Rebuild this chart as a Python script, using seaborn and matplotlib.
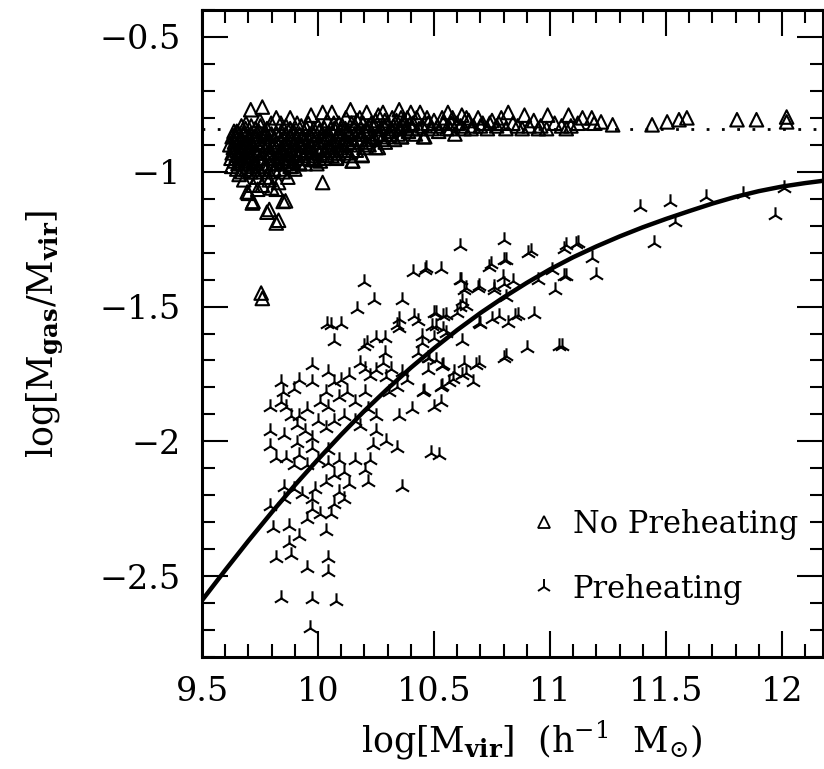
import matplotlib
matplotlib.use("Agg")
import matplotlib.pyplot as plt
import seaborn as sns
import pandas as pd
from matplotlib.ticker import MultipleLocator, FuncFormatter
from matplotlib.lines import Line2D

# ---------------- data ----------------
baryon_fraction = -0.84

fit_x = [9.5, 9.6, 9.7, 9.8, 9.9, 10.0, 10.1, 10.2, 10.3, 10.4, 10.5, 10.6,
         10.7, 10.8, 10.9, 11.0, 11.1, 11.2, 11.3, 11.4, 11.5, 11.6, 11.7,
         11.8, 11.9, 12.0, 12.1, 12.2]
fit_y = [-2.590, -2.478, -2.369, -2.264, -2.163, -2.067, -1.975, -1.887,
         -1.805, -1.727, -1.655, -1.587, -1.524, -1.466, -1.412, -1.362,
         -1.317, -1.277, -1.240, -1.206, -1.175, -1.146, -1.118, -1.093,
         -1.072, -1.055, -1.042, -1.031]

nopreheat_points = [
    (9.62, -0.90), (9.63, -0.93), (9.63, -0.87), (9.64, -0.96), (9.64, -0.89),
    (9.65, -0.99), (9.65, -0.92), (9.65, -0.85), (9.66, -1.01), (9.66, -0.95),
    (9.66, -0.88), (9.67, -0.83), (9.67, -0.97), (9.67, -0.91), (9.68, -1.03),
    (9.68, -0.86), (9.68, -0.94), (9.69, -0.99), (9.69, -0.89), (9.69, -0.82),
    (9.70, -0.96), (9.70, -0.92), (9.70, -1.08), (9.71, -0.77), (9.71, -0.86),
    (9.71, -1.00), (9.72, -0.94), (9.72, -0.90), (9.72, -1.05), (9.72, -1.11),
    (9.73, -0.84), (9.73, -0.97), (9.74, -0.88), (9.74, -1.02), (9.74, -1.065),
    (9.75, -0.92), (9.75, -0.81), (9.755, -1.45), (9.76, -1.47), (9.76, -0.76),
    (9.76, -0.95), (9.76, -1.05), (9.77, -0.87), (9.77, -0.99), (9.78, -0.90),
    (9.78, -1.15), (9.78, -0.84), (9.79, -0.97), (9.79, -1.03), (9.80, -0.93),
    (9.80, -1.06), (9.80, -0.86), (9.81, -0.99), (9.82, -0.80), (9.82, -0.91),
    (9.82, -1.065), (9.82, -1.19), (9.83, -0.95), (9.83, -1.04), (9.84, -0.88),
    (9.84, -0.82), (9.85, -1.00), (9.85, -0.93), (9.85, -1.11), (9.86, -0.86),
    (9.86, -0.97), (9.87, -0.90), (9.87, -1.02), (9.88, -0.80), (9.88, -0.84),
    (9.88, -0.95), (9.89, -0.88), (9.90, -0.99), (9.90, -0.92), (9.91, -0.82),
    (9.92, -0.97), (9.92, -0.86), (9.93, -0.90), (9.94, -0.94), (9.95, -0.84),
    (9.96, -0.88), (9.96, -0.95), (9.97, -0.79), (9.97, -0.91), (9.98, -0.86),
    (9.99, -0.94), (10.00, -0.83), (10.00, -0.89), (10.01, -0.96), (10.02, -0.78),
    (10.02, -1.04), (10.02, -0.86), (10.03, -0.92), (10.04, -0.81), (10.05, -0.88),
    (10.06, -0.78), (10.06, -0.94), (10.07, -0.84), (10.08, -0.95), (10.08, -0.90),
    (10.09, -0.82), (10.10, -0.87), (10.11, -0.92), (10.12, -0.80), (10.13, -0.85),
    (10.14, -0.77), (10.14, -0.90), (10.15, -0.96), (10.16, -0.83), (10.17, -0.88),
    (10.18, -0.80), (10.19, -0.94), (10.20, -0.85), (10.21, -0.78), (10.22, -0.90),
    (10.23, -0.82), (10.24, -0.87), (10.25, -0.91), (10.26, -0.79), (10.27, -0.84),
    (10.28, -0.78), (10.29, -0.89), (10.30, -0.82), (10.31, -0.86), (10.32, -0.80),
    (10.33, -0.88), (10.35, -0.77), (10.35, -0.84), (10.36, -0.87), (10.37, -0.81),
    (10.39, -0.85), (10.40, -0.78), (10.41, -0.82), (10.42, -0.86), (10.44, -0.78),
    (10.45, -0.83), (10.46, -0.87), (10.47, -0.80), (10.49, -0.84), (10.50, -0.81),
    (10.52, -0.85), (10.54, -0.82), (10.56, -0.78), (10.57, -0.84), (10.58, -0.80),
    (10.59, -0.86), (10.60, -0.82), (10.62, -0.79), (10.63, -0.84), (10.65, -0.81),
    (10.67, -0.83), (10.69, -0.80), (10.71, -0.82), (10.73, -0.84), (10.75, -0.81),
    (10.77, -0.83), (10.79, -0.80), (10.82, -0.78), (10.84, -0.82), (10.86, -0.83),
    (10.89, -0.79), (10.91, -0.83), (10.93, -0.81), (10.96, -0.83), (10.99, -0.79),
    (11.02, -0.82), (11.05, -0.83), (11.08, -0.79), (11.09, -0.83), (11.14, -0.80),
    (11.18, -0.80), (11.19, -0.82), (11.22, -0.815), (11.27, -0.826), (11.44, -0.826),
    (11.505, -0.815), (11.556, -0.807), (11.59, -0.80), (11.806, -0.807), (11.89, -0.807),
    (12.02, -0.797), (12.02, -0.815),
    (10.08, -0.947), (10.147, -0.96), (10.19, -0.937), (10.26, -0.91), (10.36, -0.87),
    (10.455, -0.87), (9.88, -0.98), (9.92, -0.966), (9.98, -0.955), (9.695, -1.075),
    (9.717, -1.116), (9.79, -1.14), (9.86, -1.108), (9.83, -1.18),
    (9.625, -0.95), (9.635, -0.91), (9.645, -0.87), (9.655, -0.97), (9.665, -0.93),
    (9.675, -0.89), (9.685, -0.97), (9.695, -0.93), (9.705, -0.88), (9.715, -0.98),
    (9.725, -0.87), (9.735, -0.93), (9.745, -0.99), (9.745, -0.85), (9.755, -0.89),
    (9.765, -0.93), (9.775, -1.02), (9.785, -0.87), (9.795, -0.93), (9.805, -0.97),
    (9.815, -0.88), (9.825, -0.94), (9.835, -0.99), (9.845, -0.91), (9.855, -0.96),
    (9.865, -0.89), (9.875, -0.93), (9.885, -0.98), (9.895, -0.85), (9.905, -0.95),
    (9.915, -0.89), (9.925, -0.93), (9.935, -0.87), (9.945, -0.97), (9.955, -0.91),
    (9.965, -0.86), (9.975, -0.93), (9.985, -0.89), (9.995, -0.97), (10.005, -0.85),
    (10.015, -0.91), (10.025, -0.95), (10.035, -0.87), (10.045, -0.91), (10.055, -0.84),
    (10.065, -0.89), (10.075, -0.93), (10.085, -0.86), (10.095, -0.91), (10.105, -0.83),
    (10.115, -0.88), (10.125, -0.93), (10.135, -0.86), (10.145, -0.82), (10.155, -0.89),
    (10.165, -0.92), (10.175, -0.85), (10.185, -0.88), (10.195, -0.82), (10.205, -0.89),
    (10.215, -0.85), (10.235, -0.88), (10.245, -0.83), (10.255, -0.86), (10.275, -0.88),
    (10.285, -0.83), (10.305, -0.85), (10.325, -0.83), (10.345, -0.86), (10.365, -0.83),
    (10.385, -0.80), (10.405, -0.84), (10.425, -0.80), (10.435, -0.84), (10.475, -0.82),
    (10.515, -0.83), (10.535, -0.80), (10.555, -0.84), (10.575, -0.82), (10.615, -0.83),
    (10.64, -0.80), (10.66, -0.84), (10.70, -0.83), (10.74, -0.82), (10.78, -0.82),
    (10.81, -0.84), (10.88, -0.84), (10.95, -0.84), (10.985, -0.84), (11.07, -0.84),
    (11.12, -0.82),
    (9.628, -0.98), (9.638, -0.85), (9.648, -0.94), (9.652, -0.90), (9.662, -0.86),
    (9.672, -1.00), (9.678, -0.92), (9.688, -0.84), (9.692, -0.96), (9.702, -0.90),
    (9.708, -0.94), (9.712, -0.83), (9.722, -0.97), (9.728, -0.92), (9.732, -1.00),
    (9.738, -0.86), (9.748, -0.95), (9.752, -0.83), (9.762, -0.90), (9.768, -0.98),
    (9.772, -0.85), (9.782, -0.93), (9.788, -1.00), (9.792, -0.89), (9.798, -0.82),
    (9.808, -0.95), (9.812, -0.90), (9.822, -0.86), (9.828, -0.97), (9.838, -0.92),
    (9.842, -0.85), (9.848, -0.96), (9.858, -0.90), (9.862, -0.83), (9.872, -0.95),
    (9.878, -0.87), (9.882, -0.92), (9.892, -0.96), (9.898, -0.90), (9.908, -0.87),
    (9.912, -0.94), (9.922, -0.90), (9.928, -0.83), (9.938, -0.95), (9.942, -0.88),
    (9.952, -0.92), (9.958, -0.82), (9.968, -0.90), (9.978, -0.95), (9.982, -0.84),
    (9.992, -0.91), (10.008, -0.93), (10.018, -0.88), (10.028, -0.84), (10.038, -0.94),
    (10.048, -0.86), (10.058, -0.92), (10.068, -0.82), (10.078, -0.88), (10.088, -0.93),
    (10.098, -0.85), (10.108, -0.90), (10.118, -0.84), (10.128, -0.89), (10.138, -0.94),
    (10.158, -0.86), (10.168, -0.81), (10.188, -0.86), (10.198, -0.91), (10.218, -0.83),
    (10.228, -0.87), (10.248, -0.81), (10.268, -0.86), (10.288, -0.81), (10.298, -0.87),
    (10.318, -0.84), (10.338, -0.81), (10.358, -0.80), (10.378, -0.84), (10.398, -0.82),
]

preheat_points = [
    (11.387, -1.129), (11.518, -1.111), (11.672, -1.093), (11.83, -1.084), (12.01, -1.062),
    (11.97, -1.162), (11.538, -1.187), (11.45, -1.263), (11.06, -1.288), (11.11, -1.268),
    (11.18, -1.319), (11.20, -1.382), (11.06, -1.386), (11.02, -1.437), (10.906, -1.301),
    (10.93, -1.527), (10.90, -1.654), (11.04, -1.645), (10.80, -1.252), (10.80, -1.328),
    (10.797, -1.391), (10.80, -1.415), (10.81, -1.464), (10.736, -1.355), (10.611, -1.274),
    (10.611, -1.40), (10.63, -1.437), (10.611, -1.50), (10.69, -1.433), (10.76, -1.428),
    (10.75, -1.545), (10.70, -1.563), (10.85, -1.536), (10.80, -1.69), (10.62, -1.627),
    (10.63, -1.708), (10.68, -1.717), (10.62, -1.753), (10.67, -1.78), (10.53, -1.361),
    (10.46, -1.364), (10.41, -1.373), (10.20, -1.41), (10.24, -1.477), (10.36, -1.477),
    (10.17, -1.509), (10.50, -1.523), (10.54, -1.536), (10.43, -1.554), (10.34, -1.567),
    (10.49, -1.571), (10.54, -1.585), (10.04, -1.563), (10.10, -1.563), (10.07, -1.627),
    (10.25, -1.617), (10.29, -1.617), (10.21, -1.636), (10.50, -1.617), (10.45, -1.636),
    (10.43, -1.672), (10.29, -1.672), (10.28, -1.708), (10.316, -1.73), (10.476, -1.69),
    (10.54, -1.717), (10.476, -1.735), (10.18, -1.708), (10.203, -1.73), (10.226, -1.759),
    (9.976, -1.717), (10.045, -1.744), (9.92, -1.771), (9.976, -1.78), (9.84, -1.78),
    (9.897, -1.807), (9.85, -1.816), (9.795, -1.871), (9.863, -1.871), (9.84, -1.853),
    (9.885, -1.907), (9.92, -1.907), (9.908, -1.939), (9.795, -1.961), (9.852, -1.976),
    (9.908, -2.006), (9.943, -1.961), (9.976, -1.988), (9.795, -2.019), (9.818, -2.061),
    (9.863, -2.061), (9.92, -2.052), (9.897, -2.088), (9.954, -2.088), (9.976, -2.024),
    (9.999, -2.07), (10.044, -2.033), (10.044, -2.079), (10.09, -2.07), (10.067, -2.124),
    (10.033, -2.151), (9.988, -2.178), (10.112, -2.115), (10.135, -2.16), (10.158, -2.07),
    (10.203, -2.106), (10.226, -2.07), (10.237, -2.015), (10.294, -1.997), (10.339, -2.024),
    (10.214, -2.151), (10.09, -2.187), (10.112, -2.214), (10.067, -2.232), (10.056, -2.269),
    (10.01, -2.269), (9.976, -2.214), (9.931, -2.196), (9.897, -2.178), (9.852, -2.169),
    (9.795, -2.241), (9.852, -2.214), (9.807, -2.323), (9.874, -2.377), (9.92, -2.35),
    (9.874, -2.314), (9.954, -2.287), (9.976, -2.25), (10.033, -2.332), (10.044, -2.431),
    (10.044, -2.486), (9.954, -2.471), (9.885, -2.422), (9.818, -2.431), (9.84, -2.58),
    (9.976, -2.585), (10.078, -2.594), (9.965, -2.693), (10.362, -2.169), (10.486, -2.043),
    (10.52, -2.052), (10.044, -1.871), (10.067, -1.925), (10.033, -1.952), (10.09, -1.835),
    (10.124, -1.816), (10.112, -1.907), (10.158, -1.853), (10.203, -1.816), (10.158, -1.925),
    (10.214, -1.88), (10.18, -1.943), (10.248, -1.907), (10.248, -1.961), (10.305, -1.816),
    (10.339, -1.798), (10.384, -1.771), (10.407, -1.88), (10.35, -1.907), (10.452, -1.816),
    (10.532, -1.798), (10.532, -1.853), (10.498, -1.871), (10.566, -1.78), (10.294, -1.762),
    (10.362, -1.744), (10.588, -1.744), (9.999, -1.925), (10.033, -1.816), (10.067, -1.78),
    (10.248, -1.735), (10.101, -1.771), (10.135, -1.753), (10.01, -1.853), (9.954, -1.88),
    (10.464, -1.356), (10.055, -1.567), (10.198, -1.647), (10.349, -1.548), (10.349, -1.579),
    (10.414, -1.536), (10.507, -1.523), (10.55, -1.53), (10.60, -1.523), (10.62, -1.48),
    (10.637, -1.499), (10.615, -1.40), (10.64, -1.43), (10.694, -1.425), (10.744, -1.344),
    (10.809, -1.326), (10.84, -1.406), (10.76, -1.437), (10.78, -1.536), (10.86, -1.53),
    (10.82, -1.56), (10.694, -1.56), (10.92, -1.295), (10.95, -1.40), (11.01, -1.363),
    (11.07, -1.27), (11.12, -1.263), (11.07, -1.388), (11.05, -1.647), (10.81, -1.684),
    (10.637, -1.745), (10.694, -1.71), (10.58, -1.77), (10.535, -1.795), (10.457, -1.814),
    (10.535, -1.72), (10.507, -1.70), (10.48, -1.69), (10.45, -1.61), (10.507, -1.573),
    (10.55, -1.597),
]

legend_labels = ["No Preheating", "Preheating"]
x_label = r"log[M$_{\mathbf{vir}}$]  (h$^{-1}$  M$_{\odot}$)"
y_label = r"log[M$_{\mathbf{gas}}$/M$_{\mathbf{vir}}$]"

# ---------------- frames ----------------
df_no = pd.DataFrame(nopreheat_points, columns=["logM", "frac"])
df_pre = pd.DataFrame(preheat_points, columns=["logM", "frac"])
df_fit = pd.DataFrame({"logM": fit_x, "frac": fit_y})

# ---------------- style ----------------
sns.set_style("ticks")
plt.rcParams["font.family"] = ["DejaVu Serif", "DejaVu Sans"]
plt.rcParams["mathtext.fontset"] = "dejavuserif"
plt.rcParams["axes.unicode_minus"] = True
for key in ["text.color", "axes.labelcolor", "xtick.color", "ytick.color",
            "axes.edgecolor"]:
    plt.rcParams[key] = "black"

W, H = 824, 769
fig = plt.figure(figsize=(W / 100, H / 100), dpi=100)
left, right, top, bottom = 202, 823, 10, 657
ax = fig.add_axes([left / W, (H - bottom) / H, (right - left) / W, (bottom - top) / H])

sns.scatterplot(data=df_no, x="logM", y="frac", ax=ax, marker="^", s=95,
                facecolor="none", edgecolor="black", linewidth=1.5, zorder=3,
                legend=False)
sns.scatterplot(data=df_pre, x="logM", y="frac", ax=ax, marker="2", s=140,
                color="black", linewidth=1.5, zorder=3, legend=False)
sns.lineplot(data=df_fit, x="logM", y="frac", ax=ax, color="black", lw=3.2,
             zorder=4, sort=True, estimator=None)
ax.axhline(baryon_fraction, color="black", lw=2, ls=(0, (1, 4.5)),
           dash_capstyle="butt", zorder=2)

ax.set_xlim(9.5, 9.5 + (right - left) / 232.0)
ax.set_ylim(-2.8, -0.4)

ax.xaxis.set_major_locator(MultipleLocator(0.5))
ax.xaxis.set_minor_locator(MultipleLocator(0.1))
ax.yaxis.set_major_locator(MultipleLocator(0.5))
ax.yaxis.set_minor_locator(MultipleLocator(0.1))
fmt = FuncFormatter(lambda v, p: ("%g" % round(v, 3)).replace("-", "\u2212"))
ax.xaxis.set_major_formatter(fmt)
ax.yaxis.set_major_formatter(fmt)

ax.tick_params(which="both", direction="in", top=True, right=True,
               width=1.5, color="black", labelcolor="black", labelsize=24)
ax.tick_params(which="major", length=19)
ax.tick_params(which="minor", length=9.5)
ax.tick_params(axis="x", which="major", pad=14)
ax.tick_params(axis="y", which="major", pad=15)
for sp in ax.spines.values():
    sp.set_linewidth(2.2)
    sp.set_color("black")

ax.set_xlabel(x_label, fontsize=25, labelpad=8)
ax.set_ylabel(y_label, fontsize=25, labelpad=24)
ax.xaxis.set_label_coords((532 - left) / (right - left), -0.095)

handles = [
    Line2D([], [], ls="none", marker="^", markersize=8.5, markerfacecolor="none",
           markeredgecolor="black", markeredgewidth=1.3),
    Line2D([], [], ls="none", marker="2", markersize=11, color="black",
           markeredgewidth=1.4),
]
leg = ax.legend(handles, legend_labels, loc="lower right", frameon=False,
                fontsize=22, labelspacing=1.1, handletextpad=0.45,
                handlelength=1.0, borderaxespad=0.0,
                bbox_to_anchor=((810 - left) / (right - left), (bottom - 617) / (bottom - top)))

fig.savefig("out.png", dpi=100)
